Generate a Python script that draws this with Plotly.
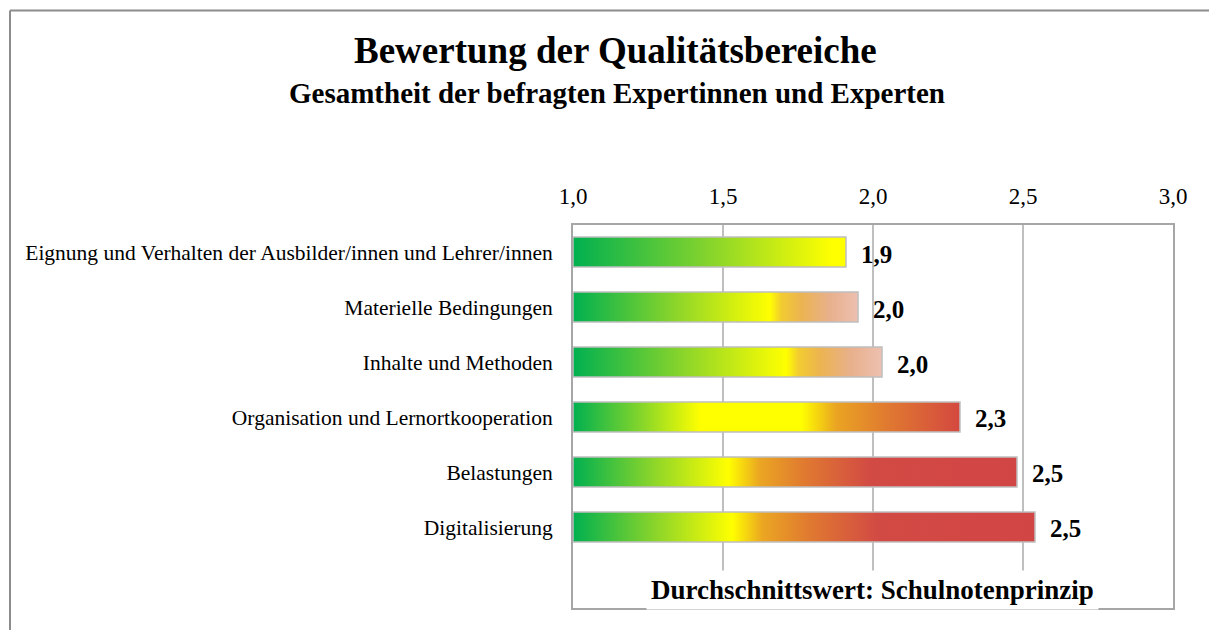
import plotly.graph_objects as go
from decimal import Decimal, ROUND_HALF_UP

# ---- data ----
categories = [
    "Eignung und Verhalten der Ausbilder/innen und Lehrer/innen",
    "Materielle Bedingungen",
    "Inhalte und Methoden",
    "Organisation und Lernortkooperation",
    "Belastungen",
    "Digitalisierung",
]
values = [1.91, 1.95, 2.03, 2.29, 2.48, 2.54]
x_ticks = [1.0, 1.5, 2.0, 2.5, 3.0]
title = "Bewertung der Qualitätsbereiche"
subtitle = "Gesamtheit der befragten Expertinnen und Experten"
axis_title = "Durchschnittswert: Schulnotenprinzip"

# ---- style ----
G, Y = "#00B050", "#FFFF00"
gradients = [
    [[0, G], [0.5, "#86D42C"], [0.95, Y], [1, Y]],
    [[0, G], [0.36, "#8CD52A"], [0.69, Y], [0.73, "#F2CC30"], [0.8, "#ECB450"], [0.9, "#E8B08C"], [1, "#EDC0B0"]],
    [[0, G], [0.36, "#8CD52A"], [0.69, Y], [0.73, "#F2CC30"], [0.8, "#ECB450"], [0.9, "#E8B08C"], [1, "#EDC0B0"]],
    [[0, G], [0.17, "#80D42C"], [0.33, Y], [0.59, Y], [0.68, "#EAA422"], [0.81, "#E07A30"], [1, "#D44840"]],
    [[0, G], [0.18, "#8CD52A"], [0.35, Y], [0.42, "#EBA622"], [0.52, "#E07A30"], [0.67, "#D24A44"], [1, "#D24545"]],
    [[0, G], [0.18, "#8CD52A"], [0.345, Y], [0.41, "#EBA622"], [0.51, "#E07A30"], [0.66, "#D24A44"], [1, "#D24545"]],
]
FONT = "Liberation Serif"
W, H = 1209, 630
ML, MR, MT, MB = 573, 36, 225, 22
PW, PH = W - ML - MR, H - MT - MB
half = 0.273


def px(xpix):
    return (xpix - ML) / PW


def py(ypix):
    return (H - MB - ypix) / PH


def fmt(v):
    return str(Decimal(str(v)).quantize(Decimal("0.1"), rounding=ROUND_HALF_UP)).replace(".", ",")


fig = go.Figure()
base = x_ticks[0]
for i, (cat, v) in enumerate(zip(categories, values)):
    fig.add_trace(go.Scatter(
        x=[base, v, v, base, base],
        y=[i - half, i - half, i + half, i + half, i - half],
        mode="lines",
        fill="toself",
        fillgradient=dict(type="horizontal", colorscale=gradients[i], start=base, stop=v),
        line=dict(color="#BFBFBF", width=1.5),
        name=cat,
        hoverinfo="text",
        text=f"{cat}: {fmt(v)}",
        showlegend=False,
    ))
    fig.add_annotation(
        x=v, y=i, xref="x", yref="y", text=f"<b>{fmt(v)}</b>", showarrow=False,
        xanchor="left", yanchor="middle", xshift=13, yshift=-2,
        font=dict(family=FONT, size=25, color="black"),
    )

fig.add_annotation(
    x=px(615), y=py(51), xref="paper", yref="paper", text=f"<b>{title}</b>",
    showarrow=False, xanchor="center", yanchor="middle",
    font=dict(family=FONT, size=37, color="black"),
)
fig.add_annotation(
    x=px(617), y=py(93), xref="paper", yref="paper", text=f"<b>{subtitle}</b>",
    showarrow=False, xanchor="center", yanchor="middle",
    font=dict(family=FONT, size=29, color="black"),
)
fig.add_annotation(
    x=px(872), y=py(590), xref="paper", yref="paper", text=f"<b>{axis_title}</b>",
    showarrow=False, xanchor="center", yanchor="middle", bgcolor="white", borderpad=4,
    font=dict(family=FONT, size=27, color="black"),
)

# outer frame (top and left edges visible)
frame = dict(type="line", xref="paper", yref="paper", line=dict(color="#8C8C8C", width=2))
fig.add_shape(**frame, x0=px(10), x1=px(1230), y0=py(10.5), y1=py(10.5))
fig.add_shape(**frame, x0=px(10), x1=px(10), y0=py(10.5), y1=py(650))

fig.update_layout(
    width=W, height=H,
    margin=dict(l=ML, r=MR, t=MT, b=MB),
    paper_bgcolor="white", plot_bgcolor="white",
    separators=",.",
    font=dict(family=FONT, color="black"),
    xaxis=dict(
        range=[x_ticks[0], x_ticks[-1]], side="top", tickvals=x_ticks, tickformat=".1f",
        showgrid=True, gridcolor="#BFBFBF", gridwidth=1.5, zeroline=False,
        showline=True, mirror=True, linecolor="#A6A6A6", linewidth=2,
        ticks="", ticklabelstandoff=10, tickfont=dict(family=FONT, size=23, color="black"),
    ),
    yaxis=dict(
        range=[6.473, -0.491], tickvals=list(range(len(categories))), ticktext=categories,
        showgrid=False, zeroline=False,
        showline=True, mirror=True, linecolor="#A6A6A6", linewidth=2,
        ticks="", ticklabelstandoff=14, tickfont=dict(family=FONT, size=21.5, color="black"),
    ),
)

fig.write_html("out.html", config={"displayModeBar": False},
               post_script="document.body.style.margin='0';")
